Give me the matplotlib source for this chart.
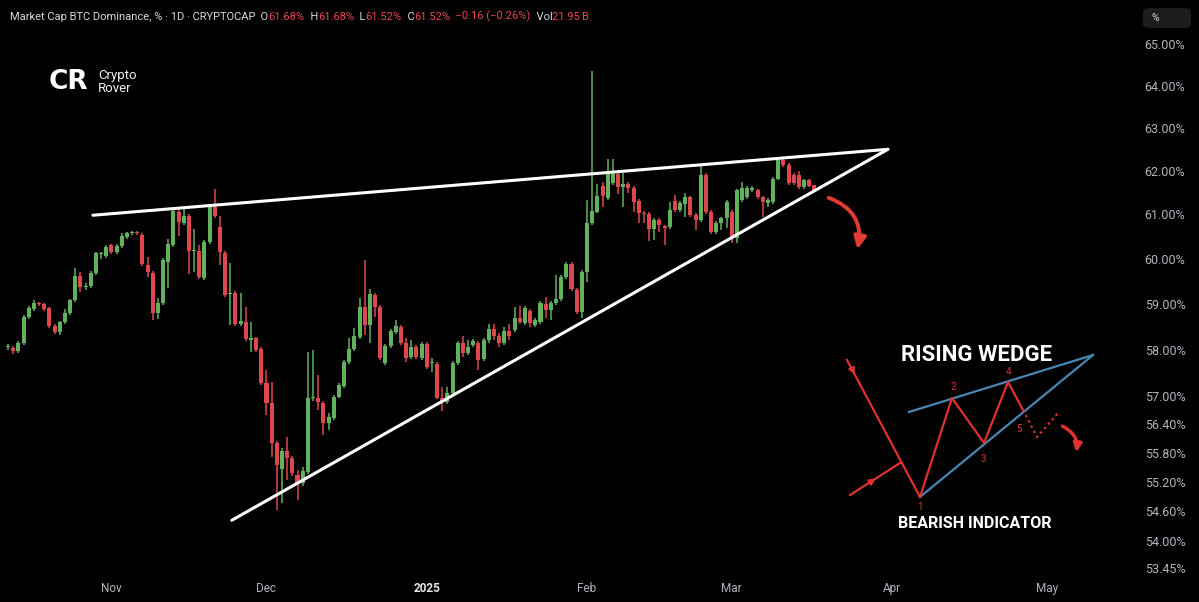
import numpy as np
import pandas as pd
import matplotlib
matplotlib.use('Agg')
import matplotlib.pyplot as plt
import matplotlib.dates as mdates
from matplotlib.patches import FancyArrowPatch, FancyBboxPatch
from matplotlib.ticker import FixedLocator, FixedFormatter, NullLocator

plt.rcParams['font.family'] = ['Roboto', 'DejaVu Sans']

# ---------------- data (daily candles, BTC dominance %) ----------------
dates = pd.date_range('2024-10-12', '2025-03-17', freq='D')

opens = [
    58.05, 58.03, 57.97, 58.14, 58.71, 58.88, 59.01, 58.99, 58.90, 58.51,
    58.38, 58.60, 58.79, 59.08, 59.61, 59.37, 59.39, 59.68, 60.10, 60.06,
    60.30, 60.15, 60.28, 60.49, 60.57, 60.60, 60.53, 59.86, 59.68, 58.79,
    59.01, 59.93, 60.30, 61.06, 60.80, 60.96, 60.17, 60.17, 59.57, 60.37,
    61.17, 60.71, 60.13, 59.21, 59.23, 58.55, 58.60, 58.20, 58.24, 58.01,
    57.28, 56.85, 56.01, 55.47, 55.84, 55.70, 55.35, 55.18, 55.41, 56.97,
    56.97, 56.85, 56.43, 56.53, 56.99, 57.22, 57.73, 58.01, 58.27, 58.93,
    58.53, 59.19, 58.93, 57.71, 58.07, 58.38, 58.49, 58.14, 57.84, 58.05,
    57.82, 58.12, 57.71, 57.69, 56.95, 56.87, 57.06, 57.71, 58.14, 57.93,
    58.09, 58.14, 57.80, 58.20, 58.45, 58.30, 58.15, 58.40, 58.42, 58.68,
    58.58, 58.84, 58.53, 58.60, 58.99, 58.86, 59.01, 59.10, 59.59, 59.88,
    59.30, 58.82, 59.70, 60.80, 61.06, 61.66, 61.37, 61.71, 61.93, 61.62,
    61.69, 61.60, 61.30, 61.03, 61.01, 60.67, 60.87, 60.73, 60.71, 61.30,
    61.10, 61.23, 61.39, 60.98, 60.87, 61.91, 61.05, 60.60, 60.80, 60.91,
    61.05, 60.46, 61.32, 61.39, 61.55, 61.55, 61.39, 61.26, 61.28, 61.82,
    62.25, 62.14, 61.91, 61.91, 61.62, 61.78, 61.68,
]
highs = [
    58.12, 58.07, 58.18, 58.75, 58.95, 59.08, 59.04, 59.02, 58.93, 58.55,
    58.63, 58.88, 59.11, 59.79, 59.70, 59.46, 59.72, 60.16, 60.15, 60.30,
    60.34, 60.32, 60.57, 60.60, 60.63, 60.63, 60.58, 60.03, 59.72, 59.12,
    60.01, 60.44, 61.12, 61.14, 61.17, 61.00, 60.66, 60.30, 60.41, 61.23,
    61.57, 60.96, 60.17, 59.90, 59.27, 59.23, 58.93, 58.60, 58.28, 58.05,
    57.56, 57.30, 56.05, 55.90, 56.13, 55.74, 55.45, 55.51, 57.95, 57.99,
    57.45, 56.89, 56.64, 57.03, 57.28, 57.77, 58.24, 58.46, 59.12, 59.97,
    59.32, 59.23, 58.97, 58.11, 58.44, 58.64, 58.53, 58.24, 58.20, 58.09,
    58.16, 58.16, 57.82, 57.73, 57.19, 57.19, 57.75, 58.18, 58.29, 58.20,
    58.22, 58.18, 58.25, 58.55, 58.55, 58.35, 58.50, 58.55, 58.93, 58.95,
    58.95, 58.88, 58.68, 59.05, 59.15, 59.05, 59.63, 59.63, 59.92, 59.93,
    59.34, 59.74, 61.32, 64.35, 61.69, 61.73, 62.27, 62.27, 62.00, 61.96,
    61.73, 61.64, 61.34, 61.07, 61.05, 60.91, 60.91, 60.77, 61.28, 61.44,
    61.30, 61.48, 61.43, 61.02, 62.12, 61.95, 61.09, 60.84, 60.95, 61.32,
    61.09, 61.59, 61.73, 61.64, 61.64, 61.59, 61.43, 61.37, 61.86, 62.30,
    62.30, 62.18, 61.95, 62.00, 61.82, 61.82, 61.68,
]
lows = [
    57.99, 57.90, 57.93, 58.10, 58.66, 58.85, 58.95, 58.84, 58.47, 58.33,
    58.31, 58.56, 58.75, 59.04, 59.26, 59.30, 59.35, 59.64, 59.99, 60.02,
    60.10, 60.10, 60.24, 60.45, 60.54, 60.53, 59.84, 59.59, 58.64, 58.66,
    58.97, 59.34, 60.26, 60.51, 60.76, 59.66, 59.70, 59.55, 59.53, 60.33,
    60.92, 59.86, 59.15, 58.53, 58.51, 58.51, 58.18, 57.95, 57.95, 57.24,
    56.59, 55.72, 54.63, 54.77, 55.24, 55.33, 54.83, 55.12, 55.37, 56.90,
    56.70, 56.17, 56.28, 56.49, 56.95, 57.18, 57.69, 57.97, 58.23, 58.31,
    58.14, 58.71, 57.78, 57.67, 58.03, 58.34, 58.10, 57.73, 57.80, 57.80,
    57.78, 57.58, 57.52, 56.93, 56.68, 56.83, 57.02, 57.67, 57.84, 57.89,
    58.05, 57.56, 57.75, 58.15, 58.20, 58.05, 58.10, 58.20, 58.38, 58.55,
    58.54, 58.49, 58.49, 58.56, 58.68, 58.64, 58.97, 59.06, 59.55, 59.28,
    58.78, 58.69, 59.48, 60.76, 61.02, 61.17, 61.33, 61.67, 61.46, 61.17,
    61.48, 61.06, 60.80, 60.80, 60.40, 60.42, 60.60, 60.30, 60.67, 61.06,
    61.06, 60.94, 60.94, 60.64, 60.83, 61.01, 60.56, 60.56, 60.64, 60.69,
    60.35, 60.35, 61.28, 61.35, 61.51, 61.35, 60.94, 61.17, 61.24, 61.78,
    62.08, 61.67, 61.67, 61.58, 61.58, 61.62, 61.52,
]
closes = [
    58.06, 57.97, 58.14, 58.71, 58.91, 59.01, 58.99, 58.88, 58.51, 58.38,
    58.60, 58.79, 59.08, 59.61, 59.37, 59.39, 59.68, 60.12, 60.12, 60.26,
    60.15, 60.28, 60.51, 60.57, 60.60, 60.57, 59.88, 59.70, 58.79, 59.01,
    59.97, 60.33, 61.08, 60.83, 60.96, 60.17, 60.18, 59.59, 60.37, 61.19,
    60.96, 60.15, 59.19, 59.22, 58.55, 58.62, 58.22, 58.24, 57.99, 57.28,
    56.85, 56.01, 55.55, 55.84, 55.70, 55.39, 55.16, 55.43, 56.97, 56.98,
    56.87, 56.43, 56.55, 56.99, 57.24, 57.73, 58.01, 58.29, 58.93, 58.53,
    59.21, 58.93, 57.82, 58.07, 58.40, 58.51, 58.14, 57.82, 58.05, 57.84,
    58.12, 57.62, 57.73, 56.97, 56.87, 57.06, 57.71, 58.14, 57.93, 58.05,
    58.18, 57.77, 58.20, 58.45, 58.30, 58.15, 58.40, 58.30, 58.68, 58.60,
    58.91, 58.58, 58.64, 59.01, 58.86, 59.01, 59.10, 59.59, 59.88, 59.32,
    58.82, 59.70, 60.80, 61.08, 61.41, 61.41, 61.93, 61.93, 61.62, 61.69,
    61.60, 61.28, 61.03, 61.01, 60.67, 60.87, 60.76, 60.69, 61.10, 61.10,
    61.26, 61.39, 60.98, 60.87, 61.91, 61.05, 60.60, 60.80, 60.91, 61.28,
    60.46, 61.55, 61.60, 61.60, 61.60, 61.39, 61.28, 61.32, 61.82, 62.25,
    62.14, 61.71, 61.71, 61.62, 61.78, 61.66, 61.52,
]

ytick_vals = [65.00, 64.00, 63.00, 62.00, 61.00, 60.00, 59.00, 58.00, 57.00,
              56.40, 55.80, 55.20, 54.60, 54.00, 53.45]
ytick_labels = ['%.2f%%' % v for v in ytick_vals]
xtick_dates = ['2024-11-01', '2024-12-01', '2025-01-01', '2025-02-01',
               '2025-03-01', '2025-04-01', '2025-05-01']
xtick_labels = ['Nov', 'Dec', '2025', 'Feb', 'Mar', 'Apr', 'May']

# wedge trend lines (annotation)
upper_line_dates = ['2024-10-28 10:00', '2025-03-31 05:00']
upper_line_vals = [60.98, 62.50]
lower_line_dates = ['2024-11-24 07:00', '2025-03-31 05:00']
lower_line_vals = [54.42, 62.50]
arrow_dates = ['2025-03-19 06:00', '2025-03-25 05:00']
arrow_vals = [61.40, 60.15]

header_parts = [
    ('Market Cap BTC Dominance, % \u00b7 1D \u00b7 CRYPTOCAP', 'w'),
    ('  O', 'w'), ('61.68%', 'r'), ('  H', 'w'), ('61.68%', 'r'),
    ('  L', 'w'), ('61.52%', 'r'), ('  C', 'w'), ('61.52%', 'r'),
    ('  \u22120.16 (\u22120.26%)', 'r'), ('  Vol', 'w'), ('21.95\u2009B', 'r'),
]

# ---------------- figure ----------------
W, H = 1199, 602
fig = plt.figure(figsize=(W / 100, H / 100), dpi=100, facecolor='black')
ax = fig.add_axes([0, 27 / H, 1135 / W, 575 / H])
ax.set_facecolor('black')

UP = '#62b15d'
DOWN = '#e0474d'

x = mdates.date2num(dates)
o = np.array(opens); c = np.array(closes); hi = np.array(highs); lo = np.array(lows)
up = c >= o
cols = np.where(up, UP, DOWN)
ax.vlines(x, lo, hi, colors=cols, linewidth=1.1, zorder=2)
body_bottom = np.minimum(o, c)
body_h = np.maximum(np.abs(c - o), 0.02)
ax.bar(x, body_h, bottom=body_bottom, width=0.78, color=cols, edgecolor='none', zorder=3)

ax.set_yscale('log')
base = mdates.date2num(pd.Timestamp('2024-10-12'))
ax.set_xlim(base - 1.55, base + 218.0)
ax.set_ylim(53.32, 66.08)

ax.yaxis.tick_right()
ax.yaxis.set_major_locator(FixedLocator(ytick_vals))
ax.yaxis.set_major_formatter(FixedFormatter(ytick_labels))
ax.yaxis.set_minor_locator(NullLocator())
ax.tick_params(axis='y', length=0, pad=7, labelsize=9, labelcolor='#b2b5be')

xt = mdates.date2num(pd.to_datetime(xtick_dates))
ax.set_xticks(xt, xtick_labels)
ax.xaxis.set_minor_locator(NullLocator())
ax.tick_params(axis='x', length=0, pad=5, labelsize=8.5, labelcolor='#b2b5be')
for lab in ax.get_xticklabels():
    if lab.get_text() == '2025':
        lab.set_fontweight('bold')
        lab.set_color('#e6e6e6')
for s in ax.spines.values():
    s.set_visible(False)

# wedge lines
ax.plot(mdates.date2num(pd.to_datetime(upper_line_dates)), upper_line_vals,
        color='white', lw=2.2, solid_capstyle='round', zorder=5, clip_on=False)
ax.plot(mdates.date2num(pd.to_datetime(lower_line_dates)), lower_line_vals,
        color='white', lw=2.2, solid_capstyle='round', zorder=5, clip_on=False)

# red curved arrow
ad = mdates.date2num(pd.to_datetime(arrow_dates))
arr = FancyArrowPatch((ad[0], arrow_vals[0]), (ad[1], arrow_vals[1]),
                      connectionstyle='arc3,rad=-0.45', arrowstyle='-|>',
                      mutation_scale=18, lw=2.8, color='#e23b32', zorder=6)
ax.add_patch(arr)

# ---------------- header ----------------
WHITE = '#d8d9dd'
RED = '#e8474f'
t = fig.text(10 / W, 1 - 17 / H, header_parts[0][0], color=WHITE, fontsize=8,
             va='center', ha='left')
for txt, col in header_parts[1:]:
    t = ax.annotate(txt, xy=(1, 0), xycoords=t, va='bottom', ha='left',
                    fontsize=8, color=WHITE if col == 'w' else RED,
                    annotation_clip=False)

# % button
fig.patches.append(FancyBboxPatch((1143 / W, 1 - 28 / H), 48 / W, 20 / H,
                                  boxstyle='round,pad=0,rounding_size=0.006',
                                  transform=fig.transFigure, facecolor='#1d1d20',
                                  edgecolor='none'))
fig.text(1152 / W, 1 - 18 / H, '%', color='#d8d9dd', fontsize=7.5, va='center')

# logo
fig.text(49 / W, 1 - 82 / H, 'CR', color='white', fontsize=19, fontweight='heavy',
         va='center', ha='left', family='DejaVu Sans')
fig.text(98 / W, 1 - 75 / H, 'Crypto', color='#f0f0f0', fontsize=9.5, va='center')
fig.text(98 / W, 1 - 89 / H, 'Rover', color='#f0f0f0', fontsize=9.5, va='center')

# ---------------- inset: rising wedge diagram ----------------
ai = fig.add_axes([840 / W, 1 - 540 / H, 260 / W, 205 / H])
ai.set_xlim(0, 260)
ai.set_ylim(205, 0)
ai.axis('off')
IRED = '#e0312f'
IBLUE = '#4a86b3'
blue_upper = ([69, 253], [77, 20])
blue_lower = ([80, 253], [162, 20])
ai.plot(*blue_upper, color=IBLUE, lw=1.6)
ai.plot(*blue_lower, color=IBLUE, lw=1.6)
zig_x = [7, 80, 112, 144, 168, 183]
zig_y = [25, 162, 63, 108, 47, 75]
ai.plot(zig_x, zig_y, color=IRED, lw=1.6)
ai.plot([10, 60], [160, 128], color=IRED, lw=1.6)
ai.plot([183, 197, 218], [75, 102, 78], color=IRED, lw=1.6, ls=':')
ai.annotate('', xy=(16, 42), xytext=(11, 32),
            arrowprops=dict(arrowstyle='-|>', color=IRED, lw=1.2, mutation_scale=10))
ai.annotate('', xy=(38, 142), xytext=(29, 148),
            arrowprops=dict(arrowstyle='-|>', color=IRED, lw=1.2, mutation_scale=10))
ai.annotate('', xy=(236, 120), xytext=(220, 90),
            arrowprops=dict(arrowstyle='-|>', color=IRED, lw=2.5, mutation_scale=12,
                            connectionstyle='arc3,rad=-0.4'))
for lbl, px, py in [('1', 80, 172), ('2', 113, 52), ('3', 143, 124),
                    ('4', 168, 37), ('5', 179, 94)]:
    ai.text(px, py, lbl, color=IRED, fontsize=7, ha='center', va='center')
ai.text(137, 20, 'RISING WEDGE', color='white', fontsize=16, fontweight='bold',
        ha='center', va='center', family=['Roboto', 'DejaVu Sans'])
ai.text(135, 188, 'BEARISH INDICATOR', color='white', fontsize=11.5, fontweight='bold',
        ha='center', va='center', family=['Roboto', 'DejaVu Sans'])

fig.savefig('out.png', dpi=100, facecolor='black')
